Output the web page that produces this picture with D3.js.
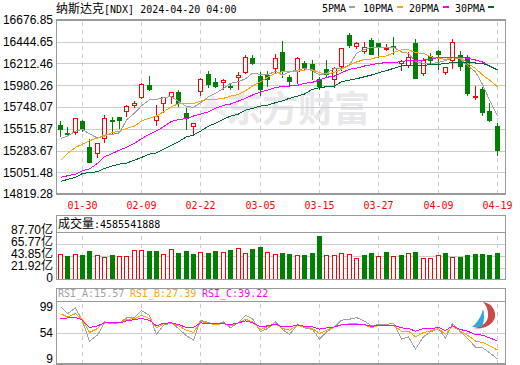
<!DOCTYPE html>
<html>
<head>
<meta charset="utf-8">
<script src="https://cdn.jsdelivr.net/npm/d3@7"></script>
<style>
  html, body { margin: 0; padding: 0; background: #fff; }
  svg { display: block; }
  text { font-family: "DejaVu Sans Mono", monospace; font-size: 10px; }
  .cjk { font-family: "Noto Sans CJK SC", sans-serif; font-size: 12px; }
  .ylab text { font-family: "Liberation Sans", "Noto Sans CJK SC", sans-serif; font-size: 12px; fill: #000; }
  .xlab text { fill: #f00; }
  .grid line { stroke: #ccc; shape-rendering: crispEdges; }
  .vgrid line { stroke: #ccc; stroke-dasharray: 4,4; shape-rendering: crispEdges; }
  .ma { fill: none; stroke-width: 1; shape-rendering: crispEdges; }
</style>
</head>
<body>
<script>
// price panel
const opens = [15560,15475,15482,15603,15325,15254,15418,15614,15646,15702,15771,15852,15988,15606,15788,15870,15913,15689,15542,15916,
  16102,16020,16020,15977,16066,16119,16276,16084,16095,16162,16330,16063,16137,16220,16212,16052,16156,16049,16191,16522,
  16397,16348,16458,16433,16372,16401,16220,16198,16426,16108,16290,16344,16123,16255,16298,16279,15852,15945,15710,15550];
const highs = [15603,15539,15632,15614,15408,15371,15667,15649,15649,15774,15820,16012,16084,15774,15863,15913,15934,15739,15582,16066,
  16137,16066,16049,15995,16123,16308,16308,16130,16137,16319,16458,16095,16290,16244,16250,16076,16255,16183,16380,16540,
  16447,16444,16493,16436,16423,16497,16255,16337,16479,16276,16326,16362,16183,16476,16351,16308,15977,15963,15799,15578];
const lows = [15429,15429,15454,15486,15154,15208,15371,15464,15518,15643,15742,15835,15924,15550,15692,15785,15753,15507,15446,15870,
  15956,15956,15934,15938,15934,16102,16201,15873,15970,16105,16063,15977,15998,16137,16041,15934,16073,15959,16141,16386,
  16372,16316,16319,16279,16351,16308,16141,16166,16055,16087,16212,16148,16095,16159,16141,15873,15827,15660,15596,15229];
const closes = [15518,15457,15632,15514,15165,15368,15632,15603,15614,15760,15795,15998,15945,15657,15852,15910,15795,15635,15574,16052,
  15998,15977,16038,15959,16091,16284,16220,15945,16052,16273,16134,16030,16276,16177,16141,15977,16105,16169,16380,16415,
  16429,16391,16319,16401,16383,16394,16244,16284,16055,16247,16247,16316,16177,16444,16183,15895,15863,15692,15606,15286];

const ma5 = [15418,15443,15496,15514,15467,15421,15454,15461,15478,15614,15689,15767,15831,15835,15852,15865,15814,15760,15749,15799,
  15863,15899,15952,16006,16023,16055,16113,16102,16099,16134,16095,16127,16148,16166,16141,16095,16113,16166,16166,16201,
  16326,16369,16391,16391,16391,16391,16340,16326,16237,16220,16212,16230,16247,16280,16266,16194,16130,15995,15827,15660];
const ma10 = [15183,15258,15322,15357,15393,15425,15443,15482,15496,15525,15550,15603,15635,15657,15702,15756,15788,15792,15792,15817,
  15835,15835,15846,15870,15888,15927,15977,16023,16070,16113,16130,16134,16134,16148,16151,16119,16105,16123,16156,16198,
  16234,16262,16266,16290,16298,16333,16365,16365,16333,16326,16290,16273,16262,16284,16284,16220,16166,16095,16041,15970];
const ma20 = [15002,15019,15037,15072,15093,15151,15222,15258,15293,15322,15365,15414,15464,15499,15542,15600,15619,15630,15657,15678,
  15702,15739,15771,15785,15817,15846,15881,15913,15934,15963,15970,15977,15985,16006,16017,16041,16070,16084,16119,16156,
  16169,16191,16205,16220,16226,16230,16237,16252,16252,16255,16262,16284,16284,16284,16280,16274,16255,16234,16194,16143];
const ma30 = [14959,14980,15002,15044,15055,15061,15098,15126,15144,15154,15186,15215,15251,15264,15304,15347,15382,15435,15454,15496,
  15550,15578,15621,15657,15678,15721,15739,15763,15774,15799,15820,15846,15870,15892,15942,15959,15970,15977,16023,16041,
  16055,16076,16095,16119,16141,16166,16191,16194,16194,16198,16205,16209,16220,16226,16226,16226,16223,16220,16191,16148];

// volume in 亿, 1 = hollow red bar
const volume = [47.8,42.9,47.8,44.8,53.3,46,42.3,44.8,44.2,42.9,55.1,55.1,52.1,52.1,47.8,56.9,48.4,52.1,46.6,51.5,
  48.4,52.1,51.5,53.9,58.8,49.6,55.7,59.4,51.5,47.8,48.4,46.6,46,44.8,48.4,79.5,46,44.8,49.6,47.8,
  40.5,44.8,48.4,44.2,50.2,44.2,44.8,49.6,50.2,40.5,40.5,46,48.4,42.3,41.1,44.8,46.6,46.6,44.8,48.4];
const volumeUp = [1,0,1,0,0,1,1,0,1,1,1,1,0,0,1,1,0,0,0,1,
  0,0,1,0,1,1,0,0,1,1,0,0,1,0,0,0,1,1,1,1,
  1,0,0,1,0,1,0,1,0,1,1,1,0,1,0,0,0,0,0,0];

const rsiA = [100.1,88,97.8,74.8,40.2,50.5,72.4,70.7,71.9,80.5,81.7,93.2,85.1,51.6,67.8,71.9,62,49.4,41.9,76.5,
  72.4,69,73.6,63.2,72.4,85.1,79.4,56.3,62,73.6,60.3,51.6,69,63.2,60.3,43.6,56.3,64.9,76.5,78.2,
  81.1,74.8,66.7,69,69,71.3,43.6,47.6,26.3,47.6,56.3,62,44.8,70.7,56.3,44.8,29.8,28.6,20,9];
const rsiB = [88,82.2,88,77.6,55.1,62,73.6,71.9,72.4,77.6,79.4,85.1,79.4,63.2,70.1,71.9,66.7,59.2,55.1,74.8,
  70.7,69,70.7,66.7,71.9,78.2,73.6,60.3,64.9,70.1,62,59.2,67.2,64.9,62,53.4,59.2,64.9,69,70.1,
  70.1,69,63.2,67.2,67.2,67.2,57.5,57.5,47.6,55.1,58,62,51.6,66.1,57.5,50.5,40.2,37.8,32,24.6];
const rsiC = [79.4,80.5,81.7,76.5,63.8,66.7,71.9,71.9,71.9,75.3,77.6,79.4,76.5,66.7,71.3,71.9,69,63.8,63.8,71.9,
  70.1,70.1,70.1,69,71.9,75.3,72.4,64.9,66.7,69.6,64.9,64.9,68.4,66.1,64.9,60.9,63.2,64.9,68.4,69.6,
  69.6,69,65.5,67.8,67.8,67.8,63.2,62,57.5,62,62,63.8,58.6,66.7,60.3,57.5,51.6,50.5,45.9,40.2];

const priceTicks = [14819.28,15051.48,15283.67,15515.87,15748.07,15980.26,16212.46,16444.65,16676.85];
const volTicks = [0,21.92,43.85,65.77,87.70];
const volTickLabels = ["0","21.92亿","43.85亿","65.77亿","87.70亿"];
const rsiTicks = [9,54,99];
const xTickIndex = [3,11,19,27,35,43,51,59];
const xTickLabels = ["01-30","02-09","02-22","03-05","03-15","03-27","04-09","04-19"];
const maNames = ["5PMA","10PMA","20PMA","30PMA"];
const maColors = ["#a0a0a0","#ffa500","#ff00ff","#006633"];

const RED = "#f00", GREEN = "#008000", FRAME = "#999";
const left = 56, right = 505;

const svg = d3.select("body").append("svg").attr("width", 520).attr("height", 365);

const xLinear = d3.scaleLinear().domain([0, 59]).range([60.2, 497.4]);
const X = i => Math.floor(xLinear(i)) + .5; // candles sit on whole pixels
const idx = d3.range(60);
const xScale = d3.scaleOrdinal().domain(idx).range(idx.map(X));

const yPrice = d3.scaleLinear().domain([14819.28, 16676.85]).range([194.5, 20.5]);
const yVol = d3.scaleLinear().domain([0, 87.7]).range([280.5, 232.3]);
const yRsi = d3.scaleLinear().domain([9, 99]).range([359, 307.3]);

// watermark
const mark = svg.append("g");
mark.append("path")
  .attr("d", "M188,127 C198,118 204,102 214,94 C216,104 222,112 236,122 C224,116 216,114 210,106 C206,116 198,124 188,127Z")
  .attr("fill", "#eeeef1");
mark.append("text").attr("class", "cjk").attr("x", 226).attr("y", 122)
  .style("font-size", "36px").style("font-weight", 700).attr("fill", "#e8e8ec").text("东方财富");

function vgrid(top, bottom, withLabels) {
  const g = svg.append("g").attr("class", withLabels ? "vgrid xlab" : "vgrid")
    .attr("transform", `translate(0,${bottom})`)
    .call(d3.axisBottom(xScale).tickValues(xTickIndex).offset(0)
      .tickSize(top - bottom).tickFormat((d, i) => xTickLabels[i]));
  g.select(".domain").remove();
  if (withLabels) g.selectAll("text").attr("y", 15).attr("dy", 0);
  else g.selectAll("text").remove();
}

function hgrid(scale, ticks, format, dy) {
  const g = svg.append("g").attr("class", "grid ylab")
    .attr("transform", `translate(${left},0)`)
    .call(d3.axisLeft(scale).tickValues(ticks).offset(0)
      .tickSize(left - right).tickFormat(format));
  g.select(".domain").remove();
  g.selectAll("text").attr("x", -3).attr("dy", dy);
  return g;
}

function frame(top, bottom) {
  svg.append("rect").attr("x", left + .5).attr("y", top).attr("width", right - left)
    .attr("height", bottom - top).attr("fill", "none").attr("stroke", FRAME)
    .attr("stroke-width", 1.2).style("shape-rendering", "crispEdges");
}

// price panel
hgrid(yPrice, priceTicks, d => d3.format(".2f")(d), "0.32em");
vgrid(20, 194, true);

const candle = svg.append("g").selectAll("g").data(idx).enter().append("g")
  .style("shape-rendering", "crispEdges");
candle.append("line")
  .attr("x1", i => X(i)).attr("x2", i => X(i))
  .attr("y1", i => yPrice(highs[i])).attr("y2", i => yPrice(lows[i]))
  .attr("stroke", i => closes[i] >= opens[i] ? RED : GREEN);
candle.append("rect")
  .attr("x", i => X(i) - 2).attr("width", 4)
  .attr("y", i => yPrice(Math.max(opens[i], closes[i])))
  .attr("height", i => Math.max(1, Math.abs(yPrice(opens[i]) - yPrice(closes[i]))))
  .attr("fill", i => closes[i] >= opens[i] ? "#fff" : GREEN)
  .attr("stroke", i => closes[i] >= opens[i] ? RED : GREEN);

const priceLine = d3.line().x((d, i) => X(i)).y(d => yPrice(d));
[ma5, ma10, ma20, ma30].forEach((s, k) => {
  svg.append("path").attr("class", "ma").attr("d", priceLine(s)).attr("stroke", maColors[k]);
});
frame(20, 194);

// title and legend
const title = svg.append("text").attr("x", 56).attr("y", 13);
title.append("tspan").attr("class", "cjk").text("纳斯达克");
title.append("tspan").text("[NDX] 2024-04-20 04:00");

const legendX = [322, 363, 409, 455], chipX = [349, 397, 443, 488];
maNames.forEach((name, k) => {
  svg.append("text").attr("x", legendX[k]).attr("y", 12).text(name);
  svg.append("rect").attr("x", chipX[k]).attr("y", 6).attr("width", 6).attr("height", 2).attr("fill", maColors[k]);
});

// volume panel
hgrid(yVol, volTicks, (d, i) => volTickLabels[i], "0.12em").selectAll(".tick").filter((d, i) => i == 0 || i == 4).select("line").remove();
vgrid(232, 280, false);
svg.append("g").style("shape-rendering", "crispEdges").selectAll("rect").data(volume).enter().append("rect")
  .attr("x", (d, i) => X(i) - 2).attr("width", 4)
  .attr("y", d => yVol(d)).attr("height", d => Math.min(279.5, yVol(0)) - yVol(d))
  .attr("fill", (d, i) => volumeUp[i] ? "#fff" : GREEN)
  .attr("stroke", (d, i) => volumeUp[i] ? RED : GREEN);
frame(215.5, 279.5);
svg.append("line").attr("x1", left).attr("x2", right).attr("y1", 232.5).attr("y2", 232.5)
  .attr("stroke", FRAME).style("shape-rendering", "crispEdges");
const volHead = svg.append("text").attr("x", 58).attr("y", 228);
volHead.append("tspan").attr("class", "cjk").text("成交量");
volHead.append("tspan").text(":4585541888");

// rsi panel
const rsiGrid = hgrid(yRsi, rsiTicks, d => d, "0.32em");
rsiGrid.selectAll(".tick").filter(d => d != 54).select("line").remove();
vgrid(301, 364, false);

// sail logo
svg.append("path").attr("d", "M483,302 C492,303 496,311 495,317 C493,325 484,330 473,328 C482,327 489,322 488,314 C488,309 486,305 483,302Z")
  .attr("fill", "#c94a4a");
svg.append("path").attr("d", "M483,309 C481,317 477,323 472,327 L482,327 C484,322 485,315 483,309Z")
  .attr("fill", "#2fa8e0");

const rsiLine = d3.line().x((d, i) => X(i)).y(d => yRsi(d));
[[rsiA, "#a0a0a0"], [rsiB, "#ffa500"], [rsiC, "#ff00ff"]].forEach(s => {
  svg.append("path").attr("class", "ma").attr("d", rsiLine(s[0])).attr("stroke", s[1]);
});
frame(288.5, 364);
svg.append("line").attr("x1", left).attr("x2", right).attr("y1", 301.5).attr("y2", 301.5)
  .attr("stroke", FRAME).style("shape-rendering", "crispEdges");

const rsiHead = [["RSI_A:15.57", "#a0a0a0", 58], ["RSI_B:27.39", "#ffa500", 130], ["RSI_C:39.22", "#ff00ff", 202]];
rsiHead.forEach(r => {
  svg.append("text").attr("x", r[2]).attr("y", 297).attr("fill", r[1]).text(r[0]);
});
</script>
</body>
</html>
